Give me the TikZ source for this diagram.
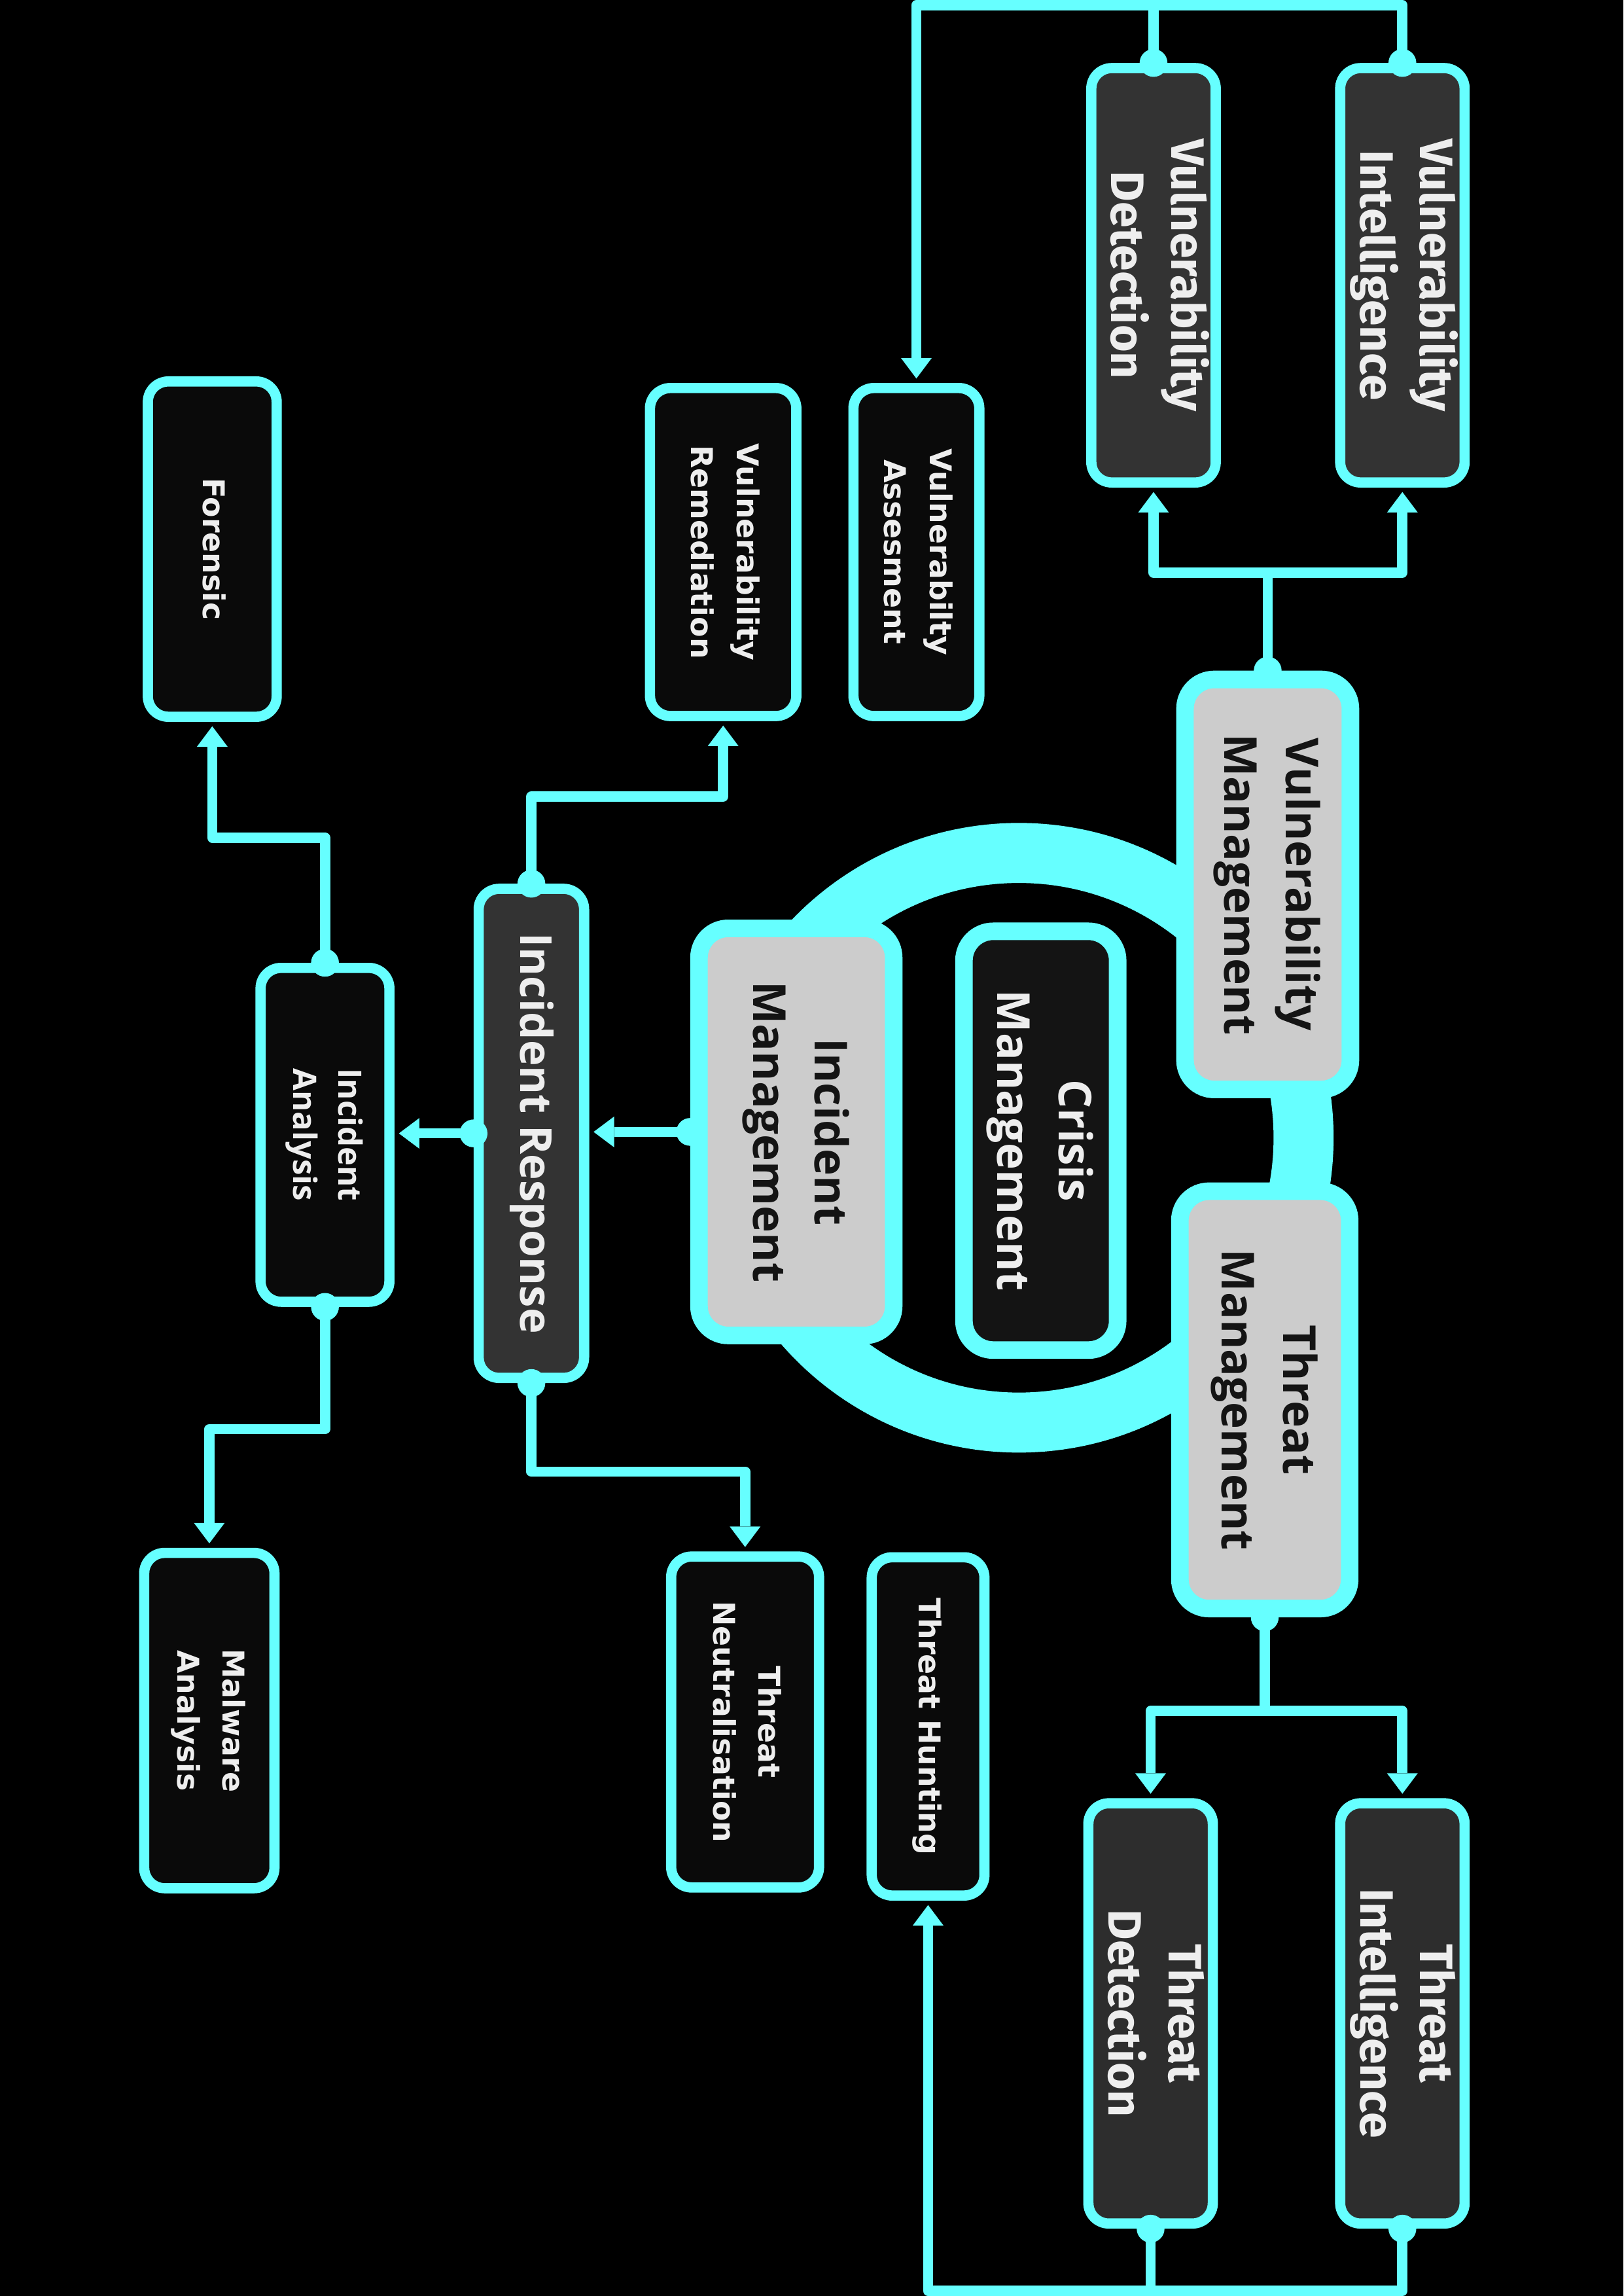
\documentclass[tikz,border=0pt]{standalone}
\usepackage{fontspec}
\setmainfont{Open Sans}
\newfontfamily\firafont{Fira Sans}
\newfontfamily\dejafont{DejaVu Sans}
\usepackage{graphicx}
\usepackage{xcolor}
\definecolor{socline}{HTML}{66FFFF}
\definecolor{socdark}{HTML}{333333}
\definecolor{socdarker}{HTML}{2D2D2D}
\definecolor{socblack}{HTML}{0A0A0A}
\definecolor{soclight}{HTML}{CCCCCC}
\definecolor{soccrisis}{HTML}{141414}
\definecolor{soctext}{HTML}{EEEEEE}
\usepackage{tikz}
\usetikzlibrary{arrows.meta,calc}

\newcommand{\vlabel}[1]{\rotatebox{-90}{\begin{tabular}{@{}c@{}}#1\end{tabular}}}

\begin{document}
\begin{tikzpicture}[x=1pt,y=-1pt,
  box/.style={draw=socline,line width=7pt,rounded corners=14pt,inner sep=0pt,text=soctext},
  darkbox/.style={box,fill=socdark,font=\firafont\bfseries\fontsize{32}{41}\selectfont},
  plainbox/.style={box,fill=socblack,font=\dejafont\bfseries\fontsize{20.5}{31}\selectfont},
  mgmtbox/.style={box,line width=12pt,rounded corners=20pt,fill=soclight,text=black!92,font=\bfseries\fontsize{31}{42}\selectfont},
  link/.style={draw=socline,line width=7pt,line join=round},
  arrow/.style={link,shorten >=3pt,-{Triangle[width=21pt,length=14pt,line width=0pt]}},
  dot/.style={circle,fill=socline,inner sep=0pt,minimum size=19pt}]
\fill[black] (0,0) rectangle (1109,1568);
\useasboundingbox (0,0) rectangle (1109,1568);

% ring behind the management boxes
\draw[socline,line width=41pt] (696,777) circle[radius=194.5];

% vulnerability side
\node[darkbox,minimum width=85pt,minimum height=283pt] (vi) at (958,188) {\vlabel{Vulnerability\\Intelligence}};
\node[darkbox,minimum width=85pt,minimum height=283pt] (vd) at (788,188) {\vlabel{Vulnerability\\Detection}};
\node[plainbox,minimum width=86pt,minimum height=224pt] (va) at (626,377) {\vlabel{Vulnerabilty\\Assesment}};
\node[plainbox,minimum width=100pt,minimum height=224pt] (vr) at (494,377) {\vlabel{Vulnerability\\Remediation}};
\node[plainbox,minimum width=88pt,minimum height=229pt] (fo) at (145,375) {\vlabel{Forensic}};

% management
\node[mgmtbox,minimum width=113pt,minimum height=280pt] (vm) at (866,604) {\vlabel{Vulnerability\\Management}};
\node[mgmtbox,minimum width=116pt,minimum height=285pt] (tm) at (864,956) {\vlabel{Threat\\Management}};
\node[mgmtbox,minimum width=133pt,minimum height=278pt] (im) at (544,773) {\vlabel{Incident\\Management}};
\node[mgmtbox,fill=soccrisis,text=soctext,minimum width=105pt,minimum height=286pt] (cm) at (711,779) {\vlabel{Crisis\\Management}};

% incident side
\node[darkbox,font=\bfseries\fontsize{30}{38}\selectfont,minimum width=72pt,minimum height=334pt] (ir) at (363,774) {\vlabel{Incident Response}};
\node[plainbox,font=\bfseries\fontsize{22}{31}\selectfont,minimum width=88pt,minimum height=228pt] (ia) at (222,775) {\vlabel{Incident\\Analysis}};
\node[plainbox,minimum width=89pt,minimum height=229pt] (ma) at (143,1175) {\vlabel{Malware\\Analysis}};
\node[plainbox,minimum width=101pt,minimum height=226pt] (tn) at (509,1176) {\vlabel{Threat\\Neutralisation}};

% threat side
\node[plainbox,minimum width=77pt,minimum height=231pt] (th) at (634,1179) {\vlabel{Threat Hunting}};
\node[darkbox,fill=socdarker,minimum width=85pt,minimum height=287pt] (ti) at (958,1375) {\vlabel{Threat\\Intelligence}};
\node[darkbox,fill=socdarker,minimum width=85pt,minimum height=287pt] (td) at (786,1375) {\vlabel{Threat\\Detection}};

% connectors
\coordinate (top) at (0,3.5);
\draw[arrow] (vi.north) -- (vi.north |- top) -| (va.north);
\draw[link] (vd.north) -- (vd.north |- top);
\draw[arrow] (vm.north) -- ++(0,-67) coordinate (vmj) -| (vd.south);
\draw[arrow] (vmj) -| (vi.south);
\draw[arrow] (tm.south) -- ++(0,64) coordinate (tmj) -| (td.north);
\draw[arrow] (tmj) -| (ti.north);
\draw[link] (td.south) -- ++(0,42.5) coordinate (tdj);
\draw[arrow] (ti.south) |- (tdj) -| (th.south);
\draw[arrow] (im.west) -- (im.west -| ir.east);
\draw[arrow] (ir.west) -- (ir.west -| ia.east);
\draw[arrow] (ir.north) -- ++(0,-59.5) -| (vr.south);
\draw[arrow] (ir.south) -- ++(0,60.5) -| (tn.north);
\draw[arrow] (ia.north) -- ++(0,-85.5) -| (fo.south);
\draw[arrow] (ia.south) -- ++(0,83.5) -| (ma.north);

% joint dots
\foreach \p [count=\i] in {vi.north,vd.north,vm.north,tm.south,td.south,ti.south,im.west,ir.west,ir.north,ir.south,ia.north,ia.south}
  \node[dot] (dot\i) at (\p) {};
\end{tikzpicture}
\end{document}
